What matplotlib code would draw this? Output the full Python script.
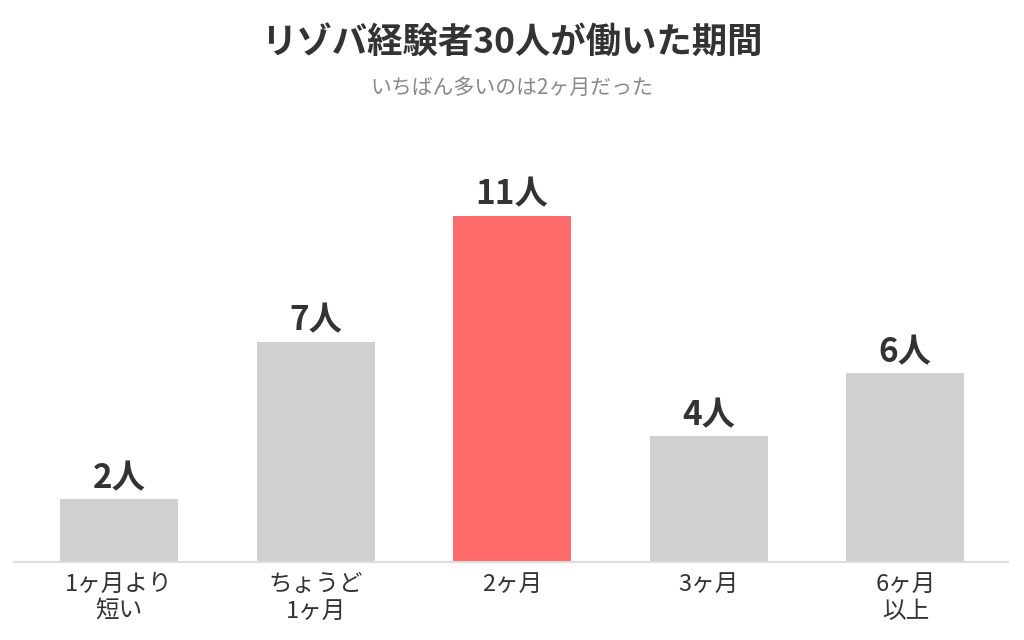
"""
Bar chart: how long 30 people with Rezoba experience worked
"""

import matplotlib.pyplot as plt

plt.rcParams["font.family"] = ["Noto Sans CJK JP", "DejaVu Sans"]

categories = ["1ヶ月より\n短い", "ちょうど\n1ヶ月", "2ヶ月", "3ヶ月", "6ヶ月\n以上"]
counts = [2, 7, 11, 4, 6]
highlight = "2ヶ月"

TITLE = "リゾバ経験者30人が働いた期間"
SUBTITLE = "いちばん多いのは2ヶ月だった"


def main():
    fig = plt.figure(figsize=(10.24, 6.4), dpi=100)
    ax = fig.add_axes([0.0137, 0.122, 0.971, 0.541])

    colors = ["#ff6b6b" if c == highlight else "#d0d0d0" for c in categories]
    x = range(len(categories))
    ax.bar(x, counts, width=0.6, color=colors)

    for xi, v in zip(x, counts):
        ax.annotate(f"{v}人", (xi, v), xytext=(0, 3), textcoords="offset points",
                    ha="center", va="bottom", fontsize=24, fontweight="bold",
                    color="#333333")

    ax.set_xlim(-0.534, 4.524)
    ax.set_ylim(0, 11)
    ax.set_xticks(list(x))
    ax.set_xticklabels(categories, fontsize=17, color="#333333", linespacing=1.2)
    ax.tick_params(axis="x", length=0, pad=8)
    ax.set_yticks([])
    for side in ["top", "right", "left"]:
        ax.spines[side].set_visible(False)
    ax.spines["bottom"].set_color("#dddddd")
    ax.spines["bottom"].set_linewidth(1.5)

    fig.text(0.5, 0.934, TITLE, ha="center", va="center",
             fontsize=25.5, fontweight="bold", color="#333333")
    fig.text(0.5, 0.862, SUBTITLE, ha="center", va="center",
             fontsize=15, color="#888888")

    fig.savefig("out.png", dpi=100)


if __name__ == "__main__":
    main()
